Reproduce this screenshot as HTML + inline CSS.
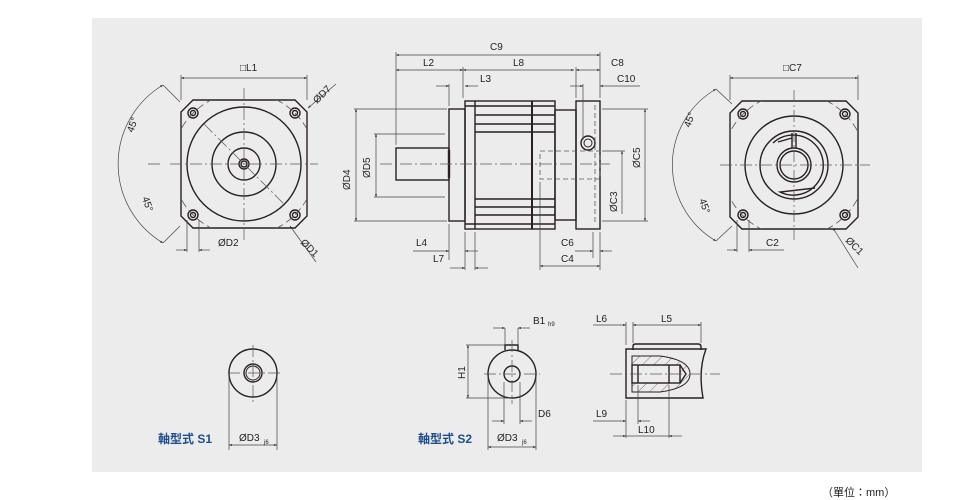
<!DOCTYPE html>
<html><head><meta charset="utf-8"><style>
html,body{margin:0;padding:0;background:#fff;}
svg{display:block;}
text{font-family:"Liberation Sans",Arial,sans-serif;font-size:10px;fill:#222;}
.t{font-family:"Liberation Sans","Noto Sans CJK TC",sans-serif;}
</style></head><body>
<svg width="980" height="500" viewBox="0 0 980 500" xmlns="http://www.w3.org/2000/svg">
<defs>
<marker id="a" viewBox="0 0 10 10" refX="10" refY="5" markerWidth="6" markerHeight="4" orient="auto-start-reverse"><path d="M0,1 L10,5 L0,9 z" fill="#333"/></marker>
<pattern id="h" width="8" height="8" patternUnits="userSpaceOnUse" patternTransform="rotate(45)"><line x1="0" y1="0" x2="0" y2="8" stroke="#555" stroke-width="0.8"/></pattern>
<clipPath id="c1"><path d="M193,100 H295 L307,112 V216 L295,228 H193 L181,216 V112 Z"/></clipPath>
<clipPath id="c2"><path d="M742,101 H846 L858,113 V217 L846,229 H742 L730,217 V113 Z"/></clipPath>
</defs>
<rect x="92" y="18" width="830" height="454" fill="#ececec"/>
<g fill="none" stroke="#2a2020" stroke-width="1.4">
<path d="M193,100 H295 L307,112 V216 L295,228 H193 L181,216 V112 Z"/>
<circle cx="244" cy="164" r="57"/>
<circle cx="244" cy="164" r="32"/>
<circle cx="244" cy="164" r="16"/>
<circle cx="244" cy="164" r="5"/>
<circle cx="244" cy="164" r="3"/>
<circle cx="193" cy="113" r="5"/><circle cx="193" cy="113" r="2.5"/>
<circle cx="295" cy="113" r="5"/><circle cx="295" cy="113" r="2.5"/>
<circle cx="193" cy="215" r="5"/><circle cx="193" cy="215" r="2.5"/>
<circle cx="295" cy="215" r="5"/><circle cx="295" cy="215" r="2.5"/>
<rect x="396" y="148" width="53" height="32"/>
<rect x="449" y="109" width="16" height="112"/>
<line x1="449" y1="150" x2="449" y2="178" stroke-width="2.4"/>
<rect x="465" y="101" width="90" height="128"/>
<line x1="475" y1="101" x2="475" y2="229"/>
<line x1="532" y1="101" x2="532" y2="229" stroke-width="2"/>
<path d="M465,106 H555 M475,115 H555 M475,124 H555 M475,132 H555 M475,199 H555 M475,207 H555 M475,215 H555 M465,224 H555"/>
<rect x="555" y="110" width="21" height="110"/>
<rect x="576" y="101" width="24" height="128"/>
<circle cx="588" cy="143" r="7"/>
<circle cx="588" cy="143" r="4" stroke-width="1"/>
<path d="M742,101 H846 L858,113 V217 L846,229 H742 L730,217 V113 Z"/>
<circle cx="794" cy="165" r="49"/>
<circle cx="794" cy="165" r="34"/>
<path d="M773,143 A30,30 0 1 1 780,192 L815,188" />
<circle cx="794" cy="165" r="17"/>
<circle cx="794" cy="165" r="14"/>
<path d="M778,142 L792,138 M792,133 V148 M796,133 V148"/>
<circle cx="743" cy="114" r="5"/><circle cx="743" cy="114" r="2.5"/>
<circle cx="845" cy="114" r="5"/><circle cx="845" cy="114" r="2.5"/>
<circle cx="743" cy="215" r="5"/><circle cx="743" cy="215" r="2.5"/>
<circle cx="845" cy="215" r="5"/><circle cx="845" cy="215" r="2.5"/>
<circle cx="253" cy="373" r="24"/>
<circle cx="253" cy="373" r="9"/>
<circle cx="253" cy="373" r="7" stroke-width="1"/>
<circle cx="512" cy="374" r="24"/>
<circle cx="512" cy="374" r="8"/>
<path d="M505,350 V345 H518 V350"/>
<path d="M633,350 V346 Q633,344 636,344 H698 Q701,344 701,347 V350"/>
<path d="M626,349 H706 Q698,370 703,398 H626 Z"/>
<path d="M632,356 H660 Q690,360 690,374 Q690,388 660,392 H632 Z" fill="url(#h)" stroke-width="1"/>
<rect x="632" y="365" width="48" height="18" fill="#ececec"/>
<path d="M680,365 L686,374 L680,383"/>
<line x1="638" y1="365" x2="638" y2="383"/>
<line x1="669" y1="365" x2="669" y2="383"/>
</g>
<g stroke="#555" stroke-width="0.7" stroke-dasharray="12,3,2,3" fill="none">
<line x1="170" y1="164" x2="318" y2="164"/><line x1="244" y1="88" x2="244" y2="240"/>
<line x1="204" y1="124" x2="284" y2="204"/>
<line x1="380" y1="164" x2="610" y2="164"/>
<line x1="720" y1="165" x2="870" y2="165"/><line x1="794" y1="90" x2="794" y2="240"/>
<line x1="228" y1="373" x2="282" y2="373"/><line x1="253" y1="345" x2="253" y2="402"/>
<line x1="484" y1="374" x2="540" y2="374"/><line x1="512" y1="340" x2="512" y2="404"/>
<line x1="610" y1="374" x2="720" y2="374"/>
</g>
<g stroke="#555" stroke-width="0.8" stroke-dasharray="5,3" fill="none">
<rect x="540" y="151" width="60" height="28"/>
<line x1="595" y1="105" x2="595" y2="225"/>
<circle cx="244" cy="164" r="72" stroke-dasharray="8,4" clip-path="url(#c1)"/>
<circle cx="794" cy="165" r="72" stroke-dasharray="8,4" clip-path="url(#c2)"/>
</g>
<g stroke="#444" stroke-width="0.7" fill="none">
<line x1="181" y1="78" x2="307" y2="78" marker-start="url(#a)" marker-end="url(#a)"/>
<line x1="181" y1="75" x2="181" y2="100"/><line x1="307" y1="75" x2="307" y2="100"/>
<line x1="308" y1="108" x2="336" y2="84" marker-start="url(#a)"/>
<line x1="290" y1="226" x2="316" y2="262" marker-start="url(#a)"/>
<line x1="187" y1="220" x2="187" y2="252"/><line x1="199" y1="220" x2="199" y2="252"/>
<line x1="176" y1="250" x2="187" y2="250" marker-end="url(#a)"/><line x1="210" y1="250" x2="199" y2="250" marker-end="url(#a)"/>
<path d="M163,85 A92,92 0 0 0 163,243" marker-start="url(#a)" marker-end="url(#a)"/>
<line x1="163" y1="85" x2="180" y2="102"/><line x1="163" y1="243" x2="180" y2="226"/>
<line x1="148" y1="164" x2="160" y2="164"/>
<line x1="396" y1="55" x2="600" y2="55" marker-start="url(#a)" marker-end="url(#a)"/>
<line x1="396" y1="70" x2="463" y2="70" marker-start="url(#a)" marker-end="url(#a)"/>
<line x1="463" y1="70" x2="574" y2="70" marker-start="url(#a)" marker-end="url(#a)"/>
<line x1="576" y1="70" x2="600" y2="70" marker-start="url(#a)" marker-end="url(#a)"/>
<line x1="436" y1="86" x2="449" y2="86" marker-end="url(#a)"/><line x1="478" y1="86" x2="465" y2="86" marker-end="url(#a)"/>
<line x1="570" y1="86" x2="583" y2="86" marker-end="url(#a)"/><line x1="640" y1="86" x2="600" y2="86" marker-end="url(#a)"/>
<line x1="396" y1="52" x2="396" y2="145"/><line x1="600" y1="52" x2="600" y2="98"/>
<line x1="463" y1="67" x2="463" y2="98"/><line x1="576" y1="67" x2="576" y2="98"/>
<line x1="449" y1="84" x2="449" y2="106"/><line x1="583" y1="84" x2="583" y2="140"/>
<line x1="356" y1="109" x2="356" y2="221" marker-start="url(#a)" marker-end="url(#a)"/>
<line x1="354" y1="109" x2="447" y2="109"/><line x1="354" y1="221" x2="447" y2="221"/>
<line x1="376" y1="134" x2="376" y2="197" marker-start="url(#a)" marker-end="url(#a)"/>
<line x1="374" y1="134" x2="445" y2="134"/><line x1="374" y1="197" x2="445" y2="197"/>
<line x1="645" y1="109" x2="645" y2="221" marker-start="url(#a)" marker-end="url(#a)"/>
<line x1="602" y1="109" x2="648" y2="109"/><line x1="602" y1="221" x2="648" y2="221"/>
<line x1="622" y1="151" x2="622" y2="214" marker-start="url(#a)"/>
<line x1="602" y1="151" x2="625" y2="151"/>
<line x1="449" y1="224" x2="449" y2="260"/><line x1="465" y1="232" x2="465" y2="270"/><line x1="475" y1="232" x2="475" y2="270"/>
<line x1="540" y1="182" x2="540" y2="270"/><line x1="600" y1="232" x2="600" y2="270"/><line x1="593" y1="232" x2="593" y2="258"/>
<line x1="413" y1="251" x2="449" y2="251" marker-end="url(#a)"/><line x1="478" y1="251" x2="465" y2="251" marker-end="url(#a)"/>
<line x1="450" y1="268" x2="465" y2="268" marker-end="url(#a)"/><line x1="488" y1="268" x2="475" y2="268" marker-end="url(#a)"/>
<line x1="575" y1="251" x2="593" y2="251" marker-end="url(#a)"/><line x1="612" y1="251" x2="600" y2="251" marker-end="url(#a)"/>
<line x1="540" y1="266" x2="600" y2="266" marker-start="url(#a)" marker-end="url(#a)"/>
<line x1="730" y1="78" x2="858" y2="78" marker-start="url(#a)" marker-end="url(#a)"/>
<line x1="730" y1="75" x2="730" y2="100"/><line x1="858" y1="75" x2="858" y2="100"/>
<path d="M716,89 A88,88 0 0 0 716,241" marker-start="url(#a)" marker-end="url(#a)"/>
<line x1="716" y1="89" x2="732" y2="104"/><line x1="716" y1="241" x2="732" y2="226"/>
<line x1="737" y1="220" x2="737" y2="252"/><line x1="749" y1="220" x2="749" y2="252"/>
<line x1="727" y1="250" x2="737" y2="250" marker-end="url(#a)"/><line x1="784" y1="250" x2="749" y2="250" marker-end="url(#a)"/>
<line x1="833" y1="228" x2="858" y2="268" marker-start="url(#a)"/>
<line x1="229" y1="375" x2="229" y2="450"/><line x1="277" y1="375" x2="277" y2="450"/>
<line x1="229" y1="445" x2="277" y2="445" marker-start="url(#a)" marker-end="url(#a)"/>
<line x1="505" y1="328" x2="505" y2="345"/><line x1="518" y1="328" x2="518" y2="345"/>
<line x1="493" y1="328" x2="505" y2="328" marker-end="url(#a)"/><line x1="530" y1="328" x2="518" y2="328" marker-end="url(#a)"/>
<line x1="468" y1="345" x2="468" y2="398" marker-start="url(#a)" marker-end="url(#a)"/>
<line x1="466" y1="345" x2="505" y2="345"/><line x1="466" y1="398" x2="512" y2="398"/>
<line x1="488" y1="376" x2="488" y2="450"/><line x1="536" y1="376" x2="536" y2="450"/>
<line x1="504" y1="382" x2="504" y2="424"/><line x1="520" y1="382" x2="520" y2="424"/>
<line x1="492" y1="421" x2="504" y2="421" marker-end="url(#a)"/><line x1="532" y1="421" x2="520" y2="421" marker-end="url(#a)"/>
<line x1="488" y1="447" x2="536" y2="447" marker-start="url(#a)" marker-end="url(#a)"/>
<line x1="626" y1="322" x2="626" y2="345"/><line x1="633" y1="322" x2="633" y2="343"/><line x1="701" y1="322" x2="701" y2="343"/>
<line x1="593" y1="325" x2="626" y2="325" marker-end="url(#a)"/><line x1="633" y1="325" x2="701" y2="325" marker-start="url(#a)" marker-end="url(#a)"/>
<line x1="626" y1="400" x2="626" y2="438"/><line x1="638" y1="385" x2="638" y2="424"/><line x1="669" y1="385" x2="669" y2="438"/>
<line x1="593" y1="421" x2="626" y2="421" marker-end="url(#a)"/><line x1="650" y1="421" x2="638" y2="421" marker-end="url(#a)"/>
<line x1="613" y1="436" x2="626" y2="436" marker-end="url(#a)"/><line x1="626" y1="436" x2="669" y2="436"/><line x1="682" y1="436" x2="669" y2="436" marker-end="url(#a)"/>
</g>
<text x="240" y="71">□L1</text>
<text x="317" y="104" transform="rotate(-45 317 104)">ØD7</text>
<text x="300" y="243" transform="rotate(45 300 243)">ØD1</text>
<text x="218" y="246">ØD2</text>
<text x="133" y="133" transform="rotate(-70 133 133)">45°</text>
<text x="142" y="198" transform="rotate(70 142 198)">45°</text>
<text x="490" y="50">C9</text>
<text x="423" y="66">L2</text>
<text x="513" y="66">L8</text>
<text x="611" y="66">C8</text>
<text x="480" y="82">L3</text>
<text x="617" y="82">C10</text>
<text x="350" y="190" transform="rotate(-90 350 190)">ØD4</text>
<text x="370" y="178" transform="rotate(-90 370 178)">ØD5</text>
<text x="640" y="168" transform="rotate(-90 640 168)">ØC5</text>
<text x="617" y="212" transform="rotate(-90 617 212)">ØC3</text>
<text x="416" y="246">L4</text>
<text x="433" y="262">L7</text>
<text x="561" y="246">C6</text>
<text x="561" y="262">C4</text>
<text x="783" y="71">□C7</text>
<text x="690" y="128" transform="rotate(-70 690 128)">45°</text>
<text x="699" y="200" transform="rotate(70 699 200)">45°</text>
<text x="766" y="246">C2</text>
<text x="845" y="241" transform="rotate(45 845 241)">ØC1</text>
<text x="239" y="441">ØD3</text><text x="264" y="444" style="font-size:6px">j6</text>
<text x="533" y="324">B1</text><text x="548" y="326" style="font-size:6px">h9</text>
<text x="465" y="379" transform="rotate(-90 465 379)">H1</text>
<text x="538" y="417">D6</text>
<text x="497" y="441">ØD3</text><text x="522" y="444" style="font-size:6px">j6</text>
<text x="596" y="322">L6</text>
<text x="661" y="322">L5</text>
<text x="596" y="417">L9</text>
<text x="638" y="433">L10</text>
<text class="t" x="158" y="443" style="font-size:12px;font-weight:bold;fill:#1d4f8c">軸型式 S1</text>
<text class="t" x="418" y="443" style="font-size:12px;font-weight:bold;fill:#1d4f8c">軸型式 S2</text>
<text class="t" x="822" y="496" style="font-size:11px">（單位：mm）</text>
</svg>
</body></html>
